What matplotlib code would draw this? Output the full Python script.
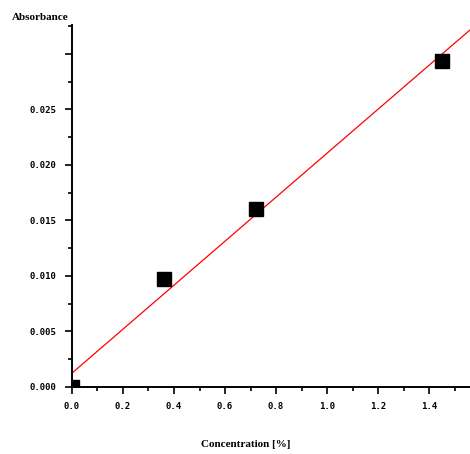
import numpy as np
import matplotlib.pyplot as plt
from matplotlib.ticker import MultipleLocator, FuncFormatter

# calibration standards
concentration = [0.0, 0.36, 0.72, 1.45]
absorbance = [0.0, 0.0097, 0.0160, 0.0294]

slope, intercept = np.polyfit(concentration, absorbance, 1)

fig = plt.figure(figsize=(4.70, 4.54), dpi=100)
ax = fig.add_axes([0.153, 0.1476, 0.847, 0.7974])

xfit = np.array([0.0, 1.56])
ax.plot(xfit, slope * xfit + intercept, color='red', lw=0.9)
ax.plot(concentration, absorbance, 's', color='black', markersize=10.5)

ax.set_xlim(0, 1.56)
ax.set_ylim(0, 0.0326)

for side in ['top', 'right']:
    ax.spines[side].set_visible(False)
for side in ['left', 'bottom']:
    ax.spines[side].set_linewidth(1.4)

ax.xaxis.set_major_locator(MultipleLocator(0.2))
ax.xaxis.set_minor_locator(MultipleLocator(0.1))
ax.yaxis.set_major_locator(MultipleLocator(0.005))
ax.yaxis.set_minor_locator(MultipleLocator(0.0025))
ax.xaxis.set_major_formatter(FuncFormatter(lambda v, p: '%.1f' % v))
# top tick (0.030) is left without a label
ax.yaxis.set_major_formatter(FuncFormatter(lambda v, p: '' if v > 0.0275 else '%.3f' % v))
ax.tick_params(which='major', direction='out', length=5, width=1.2, labelsize=6.5, pad=6)
ax.tick_params(which='minor', direction='out', length=3, width=1.2)
for lab in ax.get_xticklabels() + ax.get_yticklabels():
    lab.set_family('DejaVu Sans Mono')
    lab.set_weight('bold')

fig.text(0.085, 0.962, 'Absorbance', ha='center', va='center',
         family='Liberation Serif', weight='bold', fontsize=8)
fig.text(0.523, 0.022, 'Concentration [%]', ha='center', va='center',
         family='Liberation Serif', weight='bold', fontsize=8)

fig.savefig('out.png', dpi=100)
